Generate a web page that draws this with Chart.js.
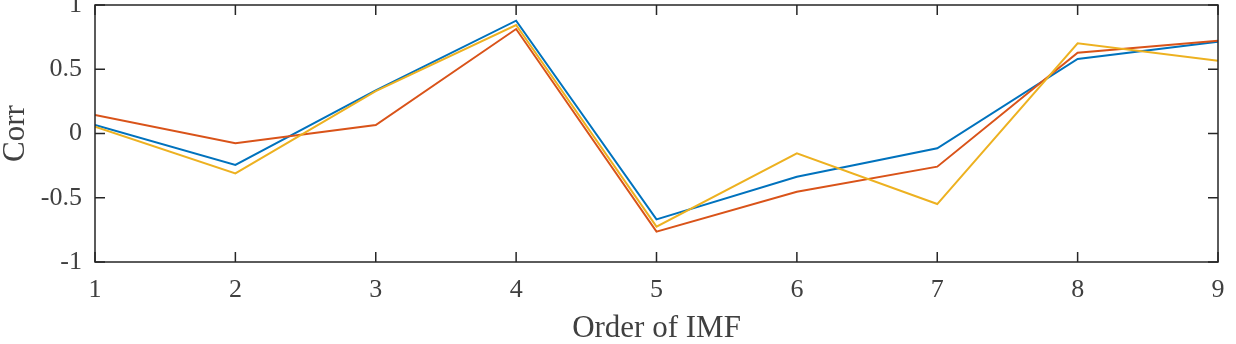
<!DOCTYPE html>
<html>
<head>
<meta charset="utf-8">
<script src="https://cdn.jsdelivr.net/npm/chart.js@4"></script>
<style>
  html, body { margin: 0; padding: 0; background: #fff; }
  #wrap { width: 1236px; height: 344px; }
</style>
</head>
<body>
<div id="wrap"><canvas id="myChart" width="1236" height="344"></canvas></div>
<script>
const imfOrder = [1, 2, 3, 4, 5, 6, 7, 8, 9];
const corrBlue = [0.066, -0.245, 0.335, 0.878, -0.668, -0.336, -0.115, 0.58, 0.714];
const corrRed = [0.144, -0.076, 0.066, 0.813, -0.764, -0.453, -0.258, 0.629, 0.722];
const corrYellow = [0.053, -0.31, 0.33, 0.844, -0.725, -0.154, -0.549, 0.702, 0.567];
const yTicks = [-1, -0.5, 0, 0.5, 1];

const axisColor = '#262626';
const textColor = '#404040';
const serif = "'Liberation Serif', 'Times New Roman', serif";

function toPoints(vals) {
    return vals.map((v, i) => ({ x: imfOrder[i], y: v }));
}

// MATLAB-style box with inward ticks on all four sides
const boxTicks = {
    id: 'boxTicks',
    afterDraw(chart) {
        const { ctx, chartArea: a, scales } = chart;
        const len = 10;
        ctx.save();
        ctx.strokeStyle = axisColor;
        ctx.lineWidth = 1.5;
        ctx.strokeRect(a.left, a.top, a.right - a.left, a.bottom - a.top);
        ctx.beginPath();
        imfOrder.forEach(v => {
            const px = scales.x.getPixelForValue(v);
            ctx.moveTo(px, a.bottom); ctx.lineTo(px, a.bottom - len);
            ctx.moveTo(px, a.top); ctx.lineTo(px, a.top + len);
        });
        yTicks.forEach(v => {
            const py = scales.y.getPixelForValue(v);
            ctx.moveTo(a.left, py); ctx.lineTo(a.left + len, py);
            ctx.moveTo(a.right, py); ctx.lineTo(a.right - len, py);
        });
        ctx.stroke();
        ctx.restore();
    }
};

const myChart = document.getElementById('myChart');

new Chart(myChart, {
    type: 'line',
    data: {
        datasets: [{
            data: toPoints(corrBlue),
            borderColor: '#0072BD',
            order: 2
        }, {
            data: toPoints(corrRed),
            borderColor: '#D95319',
            order: 1
        }, {
            data: toPoints(corrYellow),
            borderColor: '#EDB120',
            order: 0
        }]
    },
    options: {
        responsive: false,
        animation: false,
        layout: { padding: { top: 5, right: 18, left: 0, bottom: 0 } },
        elements: {
            line: { borderWidth: 2, tension: 0 },
            point: { radius: 0 }
        },
        plugins: {
            legend: { display: false },
            tooltip: { enabled: false }
        },
        scales: {
            x: {
                type: 'linear',
                min: 1,
                max: 9,
                afterBuildTicks: s => { s.ticks = imfOrder.map(v => ({ value: v })); },
                afterFit: s => {
                    s.height = 82;
                    s.paddingLeft = 0;
                    s.paddingRight = 0;
                },
                grid: { display: false, drawTicks: false },
                border: { display: false },
                ticks: {
                    padding: 13,
                    color: textColor,
                    font: { family: serif, size: 26 },
                    maxRotation: 0
                },
                title: {
                    display: true,
                    text: 'Order of IMF',
                    color: textColor,
                    font: { family: serif, size: 31, lineHeight: 1 },
                    padding: { top: 0, bottom: 0 }
                }
            },
            y: {
                min: -1,
                max: 1,
                afterBuildTicks: s => { s.ticks = yTicks.map(v => ({ value: v })); },
                afterFit: s => {
                    s.width = 95;
                    s.paddingTop = 0;
                    s.paddingBottom = 0;
                },
                grid: { display: false, drawTicks: false },
                border: { display: false },
                ticks: {
                    padding: 13,
                    color: textColor,
                    font: { family: serif, size: 26 },
                    callback: v => String(v)
                },
                title: {
                    display: true,
                    text: 'Corr',
                    color: textColor,
                    font: { family: serif, size: 31, lineHeight: 1 },
                    padding: { top: 0, bottom: 0 }
                }
            }
        }
    },
    plugins: [boxTicks]
});
</script>
</body>
</html>
